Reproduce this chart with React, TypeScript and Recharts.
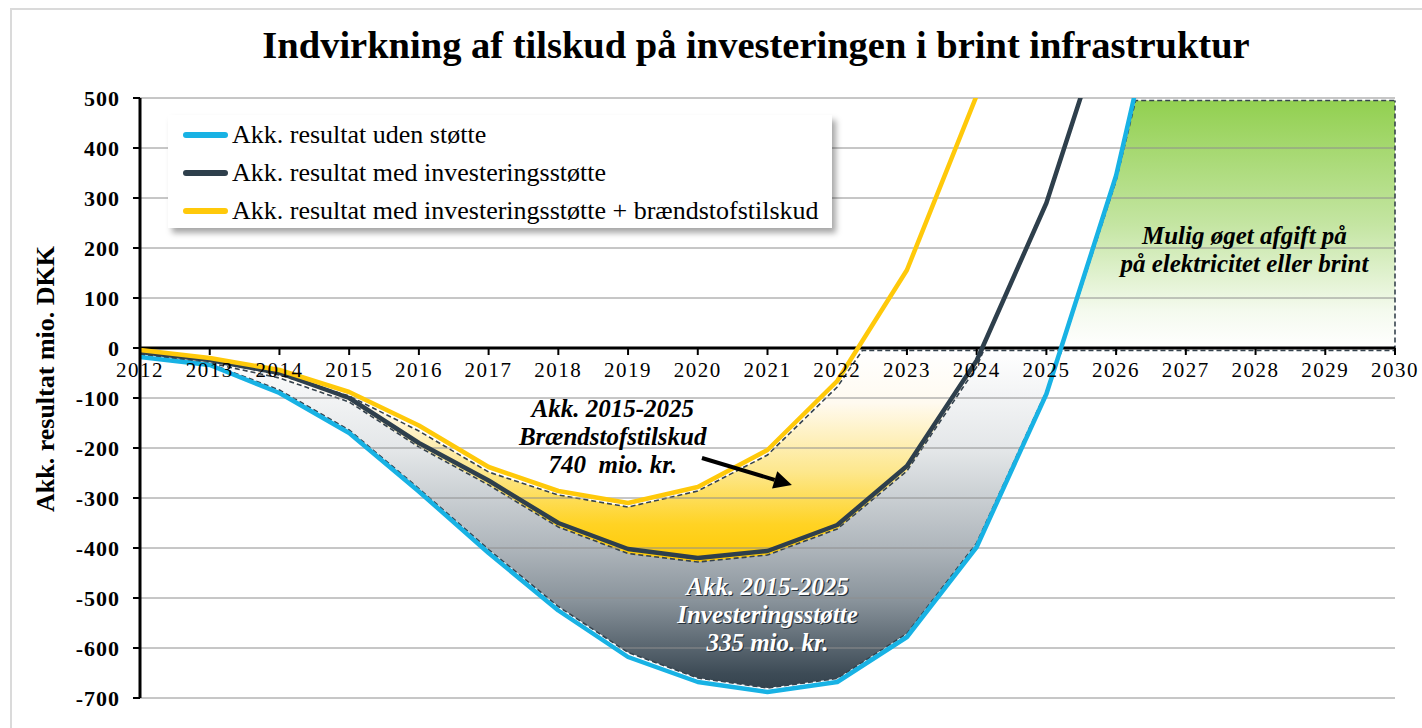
import React from "react";
import {
  ComposedChart,
  Area,
  Line,
  XAxis,
  YAxis,
  CartesianGrid,
  ReferenceLine,
  ReferenceDot,
} from "recharts";

const FONT = '"Liberation Serif", "Times New Roman", serif';

const YEARS = [
  2012, 2013, 2014, 2015, 2016, 2017, 2018, 2019, 2020, 2021, 2022, 2023, 2024,
  2025, 2026, 2027, 2028, 2029, 2030,
];
const Y_TICKS = [-700, -600, -500, -400, -300, -200, -100, 0, 100, 200, 300, 400, 500];

// lines, values from 2012 onwards (mio. DKK)
const udenStotte = [-18, -34, -90, -170, -287, -410, -525, -618, -668, -688, -668, -578, -398, -92, 345, 950];
const medInvestering = [-8, -24, -50, -100, -190, -265, -350, -402, -420, -406, -354, -236, -25, 290, 720];
const medBraendstof = [-4, -20, -44, -88, -155, -238, -286, -310, -278, -204, -66, 156, 505, 900];

// dashed area outlines [year, value]
const braendstofEdge: [number, number][] = [
  [2012, -8], [2013, -24], [2014, -54], [2015, -96], [2016, -166], [2017, -248],
  [2018, -294], [2019, -318], [2020, -286], [2021, -214], [2022, -78],
  [2022.36, -5], [2023, -5], [2024, -5], [2024.1, -5],
];
const investeringEdge: [number, number][] = [
  [2012, -12], [2013, -30], [2014, -60], [2015, -108], [2016, -198], [2017, -274],
  [2018, -358], [2019, -411], [2020, -428], [2021, -414], [2022, -362],
  [2023, -246], [2024, -38], [2024.1, -5], [2025, -5], [2025.22, -5],
];
const udenEdge: [number, number][] = [
  [2012, -14], [2013, -31], [2014, -84], [2015, -164], [2016, -281], [2017, -403],
  [2018, -517], [2019, -609], [2020, -660], [2021, -680], [2022, -661],
  [2023, -571], [2024, -390], [2025, -86], [2025.22, -5], [2026, -5],
  [2027, -5], [2028, -5], [2029, -5], [2030, -5],
];
const afgiftEdge: [number, number][] = [
  [2025.22, 0], [2026, 335], [2026.28, 495], [2027, 495], [2028, 495], [2029, 495], [2030, 495],
];

const SERIES = [
  { key: "uden", name: "Akk. resultat uden støtte", color: "#18b2e4", values: udenStotte },
  { key: "invest", name: "Akk. resultat med investeringsstøtte", color: "#2e3f4c", values: medInvestering },
  { key: "braend", name: "Akk. resultat med investeringsstøtte + brændstofstilskud", color: "#ffc90a", values: medBraendstof },
];

const pick = (pts: [number, number][], x: number) => {
  const p = pts.find((q) => q[0] === x);
  return p ? p[1] : null;
};

const allX = Array.from(
  new Set([
    ...YEARS,
    ...braendstofEdge.map((p) => p[0]),
    ...investeringEdge.map((p) => p[0]),
    ...udenEdge.map((p) => p[0]),
    ...afgiftEdge.map((p) => p[0]),
  ])
).sort((a, b) => a - b);

const rows = allX.map((x) => {
  const i = YEARS.indexOf(x);
  const row: Record<string, number | null> = { x };
  SERIES.forEach((s) => {
    row[s.key] = i >= 0 && i < s.values.length ? s.values[i] : null;
  });
  row.braendEdge = pick(braendstofEdge, x);
  row.investEdge = pick(investeringEdge, x);
  row.udenEdge = pick(udenEdge, x);
  row.afgift = pick(afgiftEdge, x);
  return row;
});

const DASH = { stroke: "#36434e", strokeWidth: 1.6, strokeDasharray: "5 3" };

const textStyle = {
  fontFamily: FONT,
  fontWeight: "bold" as const,
  fontStyle: "italic" as const,
  fontSize: 25,
  whiteSpace: "pre" as const,
};

function NoteText({ cx, cy, lines, fill }: any) {
  return (
    <text x={cx} y={cy} textAnchor="middle" fill={fill} style={textStyle}>
      {lines.map((l: string, i: number) => (
        <tspan key={i} x={cx} dy={i === 0 ? 0 : 28}>
          {l}
        </tspan>
      ))}
    </text>
  );
}

function Note({ cx, cy, lines, fill, shadow }: any) {
  return (
    <g>
      {shadow && <NoteText cx={cx + 1.2} cy={cy + 1.2} lines={lines} fill={shadow} />}
      <NoteText cx={cx} cy={cy} lines={lines} fill={fill} />
    </g>
  );
}

function Arrow({ x1, y1, x2, y2 }: any) {
  const a = Math.atan2(y2 - y1, x2 - x1);
  const len = 18;
  const w = 9;
  const bx = x2 - len * Math.cos(a);
  const by = y2 - len * Math.sin(a);
  const p1 = `${bx + w * Math.sin(a)},${by - w * Math.cos(a)}`;
  const p2 = `${bx - w * Math.sin(a)},${by + w * Math.cos(a)}`;
  return (
    <g>
      <line x1={x1} y1={y1} x2={bx} y2={by} stroke="#000" strokeWidth={4} />
      <polygon points={`${x2},${y2} ${p1} ${p2}`} fill="#000" />
    </g>
  );
}

export default function App() {
  return (
    <div style={{ position: "absolute", left: 0, top: 0, width: 1422, height: 728, overflow: "hidden", background: "#fff" }}>
      <div style={{ position: "absolute", left: 10, top: 8, width: 1440, height: 760, border: "2px solid #dadada" }} />
      <div
        style={{
          position: "absolute",
          left: 256,
          top: 26,
          width: 1000,
          textAlign: "center",
          fontFamily: FONT,
          fontWeight: "bold",
          fontSize: 38.5,
          lineHeight: "38px",
          whiteSpace: "nowrap",
        }}
      >
        Indvirkning af tilskud på investeringen i brint infrastruktur
      </div>
      <div
        style={{
          position: "absolute",
          left: 46,
          top: 379,
          transform: "translate(-50%, -50%) rotate(-90deg)",
          fontFamily: FONT,
          fontWeight: "bold",
          fontSize: 26,
          whiteSpace: "nowrap",
        }}
      >
        Akk. resultat mio. DKK
      </div>

      <div style={{ position: "absolute", left: 0, top: 0 }}>
        <ComposedChart width={1422} height={728} data={rows} margin={{ top: 98, right: 27, bottom: 30, left: 80 }}>
          <defs>
            <linearGradient id="yellowGrad" x1="0" y1="0" x2="0" y2="1">
              <stop offset="0" stopColor="#ffffff" />
              <stop offset="0.15" stopColor="#fffaf0" />
              <stop offset="0.35" stopColor="#fde78c" />
              <stop offset="0.5" stopColor="#ffd324" />
              <stop offset="0.62" stopColor="#ffc800" />
              <stop offset="1" stopColor="#ffc000" />
            </linearGradient>
            <linearGradient id="grayGrad" x1="0" y1="0" x2="0" y2="1">
              <stop offset="0" stopColor="#ffffff" />
              <stop offset="0.29" stopColor="#e3e6e8" />
              <stop offset="0.57" stopColor="#aeb5bb" />
              <stop offset="0.72" stopColor="#89939b" />
              <stop offset="0.93" stopColor="#3d4b56" />
              <stop offset="1" stopColor="#2f3d48" />
            </linearGradient>
            <linearGradient id="greenGrad" x1="0" y1="0" x2="0" y2="1">
              <stop offset="0" stopColor="#92d050" />
              <stop offset="0.5" stopColor="#c4e5a2" />
              <stop offset="0.85" stopColor="#f4faee" />
              <stop offset="1" stopColor="#ffffff" />
            </linearGradient>
          </defs>

          <XAxis dataKey="x" type="number" domain={[2012, 2030]} hide />
          <YAxis
            type="number"
            domain={[-700, 500]}
            ticks={Y_TICKS}
            interval={0}
            allowDataOverflow
            width={60}
            axisLine={{ stroke: "#000", strokeWidth: 3 }}
            tickLine={{ stroke: "#000", strokeWidth: 2 }}
            tickSize={7}
            tickMargin={13}
            tick={{ fill: "#000", fontSize: 22, fontWeight: "bold", fontFamily: FONT, letterSpacing: 1 }}
          />

          <Area dataKey="braendEdge" baseValue={-700} fill="url(#yellowGrad)" fillOpacity={1} {...DASH} connectNulls dot={false} activeDot={false} legendType="none" isAnimationActive={false} />
          <Area dataKey="investEdge" baseValue={-700} fill="url(#grayGrad)" fillOpacity={1} {...DASH} connectNulls dot={false} activeDot={false} legendType="none" isAnimationActive={false} />
          <Area dataKey="udenEdge" baseValue={-700} fill="#ffffff" fillOpacity={1} {...DASH} connectNulls dot={false} activeDot={false} legendType="none" isAnimationActive={false} />
          <Area dataKey="afgift" fill="url(#greenGrad)" fillOpacity={1} {...DASH} connectNulls dot={false} activeDot={false} legendType="none" isAnimationActive={false} />

          <CartesianGrid vertical={false} stroke="#8e8e8e" strokeWidth={1} zIndex={150} />

          <ReferenceLine segment={[{ x: 2030, y: -5 }, { x: 2030, y: 495 }]} {...DASH} />
          <ReferenceLine y={0} stroke="#000" strokeWidth={3} />
          {YEARS.map((yr) => (
            <ReferenceLine
              key={yr}
              segment={[{ x: yr, y: 0 }, { x: yr, y: -14 }]}
              stroke="#000"
              strokeWidth={2}
              label={{ value: String(yr), position: "bottom", offset: 7, fill: "#000", fontSize: 21, fontFamily: FONT, letterSpacing: 1.5 }}
            />
          ))}

          {SERIES.map((s) => (
            <Line
              key={s.key}
              dataKey={s.key}
              name={s.name}
              stroke={s.color}
              strokeWidth={4.5}
              strokeLinejoin="round"
              connectNulls
              dot={false}
              activeDot={false}
              isAnimationActive={false}
            />
          ))}

          <ReferenceLine
            segment={[{ x: 2020.06, y: -220 }, { x: 2021.35, y: -274 }]}
            shape={(p: any) => <Arrow {...p} />}
          />
          <ReferenceDot
            x={2018.78}
            y={-138}
            shape={(p: any) => <Note {...p} fill="#000" lines={["Akk. 2015-2025", "Brændstofstilskud", "740  mio. kr."]} />}
          />
          <ReferenceDot
            x={2021.0}
            y={-494}
            shape={(p: any) => (
              <Note {...p} fill="#ffffff" shadow="#27323b" lines={["Akk. 2015-2025", "Investeringsstøtte", "335 mio. kr."]} />
            )}
          />
          <ReferenceDot
            x={2027.84}
            y={208}
            shape={(p: any) => <Note {...p} fill="#000" lines={["Mulig øget afgift på", "på elektricitet eller brint"]} />}
          />
        </ComposedChart>
      </div>

      <div
        style={{
          position: "absolute",
          left: 168,
          top: 115,
          width: 664,
          height: 113,
          background: "#fff",
          boxShadow: "4px 5px 6px rgba(0,0,0,0.35)",
        }}
      >
        {SERIES.map((s, i) => (
          <div
            key={s.key}
            style={{ position: "absolute", left: 0, top: 5 + i * 38, height: 30, display: "flex", alignItems: "center" }}
          >
            <div style={{ marginLeft: 15, width: 45, height: 6, borderRadius: 3, background: s.color }} />
            <div style={{ marginLeft: 4, fontFamily: FONT, fontSize: 26, lineHeight: "30px", whiteSpace: "nowrap" }}>{s.name}</div>
          </div>
        ))}
      </div>
    </div>
  );
}
